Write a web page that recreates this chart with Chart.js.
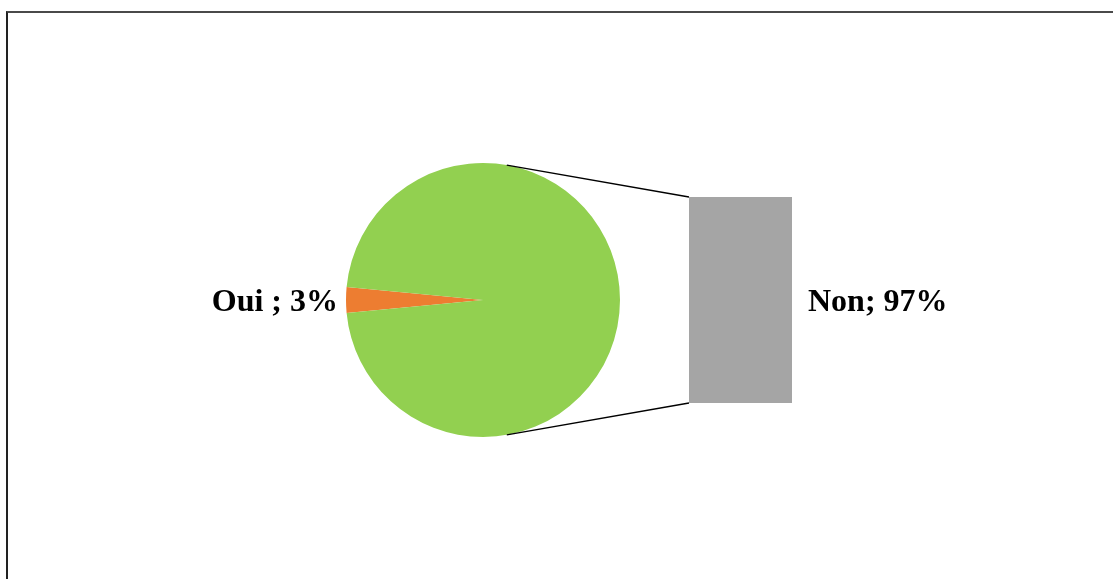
<!DOCTYPE html>
<html>
<head>
<meta charset="utf-8">
<script src="https://cdn.jsdelivr.net/npm/chart.js@4"></script>
<style>
  html, body { margin: 0; padding: 0; background: #fff; overflow: hidden; }
  #wrap { position: relative; width: 1113px; height: 579px; }
  #frame { position: absolute; left: 6px; top: 11px; width: 1200px; height: 700px;
           border-top: 2px solid #4a4a4a; border-left: 2px solid #222; }
  canvas { position: absolute; left: 0; top: 0; }
</style>
</head>
<body>
<div id="wrap">
  <div id="frame"></div>
  <canvas id="pieCanvas" width="1113" height="579"></canvas>
  <canvas id="barCanvas" width="1113" height="579"></canvas>
</div>
<script>
// data
const categories = ['Oui', 'Non'];
const values = [3, 97];
const pieColors = ['#ED7D31', '#92D050'];
const barCategories = ['Non'];
const barValues = [97];
const barColor = '#A5A5A5';

const labelFont = 'bold 32px "Liberation Serif", "Times New Roman", serif';

// rotate so the small slice is centred on the left
const total = values.reduce((s, v) => s + v, 0);
const pieRotation = 270 - (values[0] / total) * 360 / 2;

const pieChart = new Chart(document.getElementById('pieCanvas'), {
    type: 'pie',
    data: {
        labels: categories,
        datasets: [{
            data: values,
            backgroundColor: pieColors,
            borderWidth: 0
        }]
    },
    options: {
        responsive: false,
        animation: false,
        rotation: pieRotation,
        layout: { padding: { left: 346, right: 493, top: 163, bottom: 142 } },
        plugins: { legend: { display: false }, tooltip: { enabled: false } }
    }
});

const connectorPlugin = {
    id: 'connectors',
    afterDatasetsDraw(chart) {
        const ctx = chart.ctx;
        const arc = pieChart.getDatasetMeta(0).data[0];
        const bar = chart.getDatasetMeta(0).data[0];
        const cx = arc.x, cy = arc.y, r = arc.outerRadius;
        const a = 80 * Math.PI / 180;
        const left = bar.x - bar.width / 2;
        const right = bar.x + bar.width / 2;

        ctx.save();
        ctx.strokeStyle = '#000';
        ctx.lineWidth = 1.4;
        ctx.beginPath();
        ctx.moveTo(cx + r * Math.cos(a), cy - r * Math.sin(a));
        ctx.lineTo(left, bar.y);
        ctx.moveTo(cx + r * Math.cos(a), cy + r * Math.sin(a));
        ctx.lineTo(left, bar.base);
        ctx.stroke();

        // data labels
        const pct0 = Math.round(values[0] / total * 100);
        ctx.font = labelFont;
        ctx.fillStyle = '#000';
        ctx.textBaseline = 'middle';
        ctx.textAlign = 'right';
        ctx.fillText(categories[0] + ' ; ' + pct0 + '%', cx - r - 8, cy + 3);
        ctx.textAlign = 'left';
        ctx.fillText(barCategories[0] + '; ' + barValues[0] + '%', right + 16, (bar.y + bar.base) / 2 + 3);
        ctx.restore();
    }
};

const barChart = new Chart(document.getElementById('barCanvas'), {
    type: 'bar',
    data: {
        labels: barCategories,
        datasets: [{
            data: barValues,
            backgroundColor: barColor,
            borderWidth: 0,
            barPercentage: 1,
            categoryPercentage: 1
        }]
    },
    options: {
        responsive: false,
        animation: false,
        layout: { padding: { left: 689, right: 321, top: 197, bottom: 176 } },
        scales: {
            x: { display: false },
            y: { display: false, min: 0, max: barValues[0] }
        },
        plugins: { legend: { display: false }, tooltip: { enabled: false } }
    },
    plugins: [connectorPlugin]
});
</script>
</body>
</html>
